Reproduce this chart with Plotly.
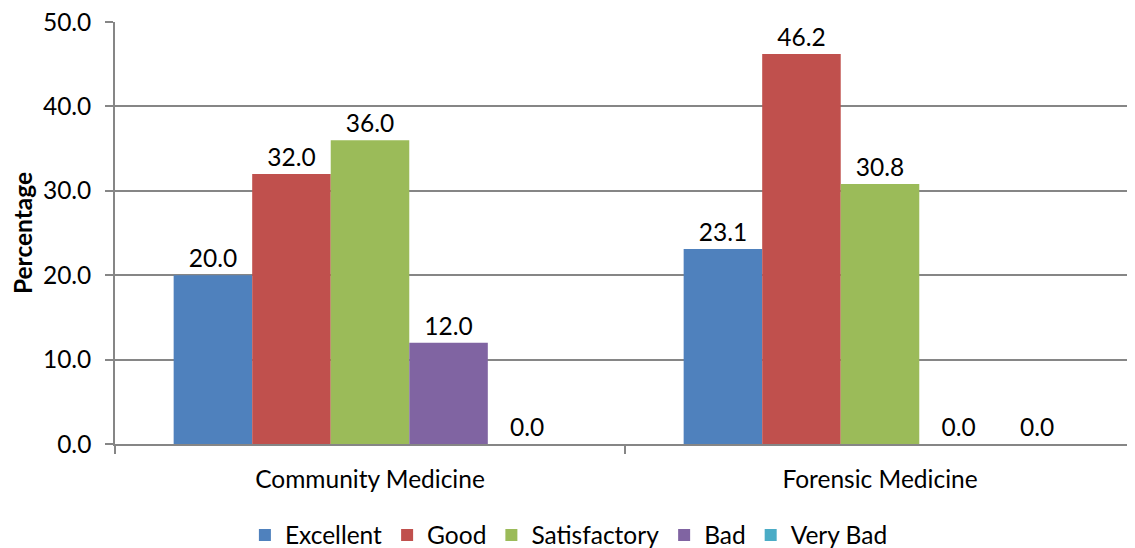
import plotly.graph_objects as go

categories = ["Community Medicine", "Forensic Medicine"]
series_names = ["Excellent", "Good", "Satisfactory", "Bad", "Very Bad"]
excellent = [20.0, 23.1]
good = [32.0, 46.2]
satisfactory = [36.0, 30.8]
bad = [12.0, 0.0]
very_bad = [0.0, 0.0]
values = [excellent, good, satisfactory, bad, very_bad]
colors = ["#4F81BD", "#C0504D", "#9BBB59", "#8064A2", "#4BACC6"]

FONT = "Lato"
FS = 24.5

fig = go.Figure()
for name, vals, col in zip(series_names, values, colors):
    fig.add_trace(go.Bar(
        name=name, x=categories, y=vals,
        marker=dict(color=col, line=dict(width=0)),
        text=[f"{v:.1f}" for v in vals],
        textposition="outside",
        textfont=dict(family=FONT, size=FS, color="#000000"),
        cliponaxis=False,
    ))

fig.update_layout(
    barmode="group",
    bargap=0.23,
    bargroupgap=0,
    width=1127, height=540,
    margin=dict(l=107, r=0, t=14, b=104, autoexpand=False),
    paper_bgcolor="white", plot_bgcolor="white",
    font=dict(family=FONT, size=FS, color="#000000"),
    showlegend=True,
    legend=dict(orientation="h", x=0.445, xanchor="center", y=-0.2156, yanchor="middle",
                font=dict(family=FONT, size=FS), itemwidth=30, traceorder="normal",
                bgcolor="rgba(0,0,0,0)"),
    xaxis=dict(
        type="category", tickson="boundaries", ticks="outside", ticklen=8,
        tickcolor="#868686", tickwidth=1.5, automargin=False,
        showline=True, linecolor="#868686", linewidth=1.5,
        showgrid=False, tickfont=dict(family=FONT, size=FS),
        ticklabelstandoff=13,
    ),
    yaxis=dict(
        range=[0, 50], dtick=10, tickformat=".1f", automargin=False,
        showgrid=True, gridcolor="#868686", gridwidth=1.5,
        showline=True, linecolor="#868686", linewidth=1.5,
        ticks="outside", ticklen=8, tickcolor="#868686", tickwidth=1.5,
        zeroline=False, ticklabelstandoff=9, ticklabeloverflow="allow",
        title=dict(text="<b>Percentage</b>", font=dict(family=FONT, size=FS), standoff=10),
        tickfont=dict(family=FONT, size=FS),
    ),
)

fig.write_html("out.html")
